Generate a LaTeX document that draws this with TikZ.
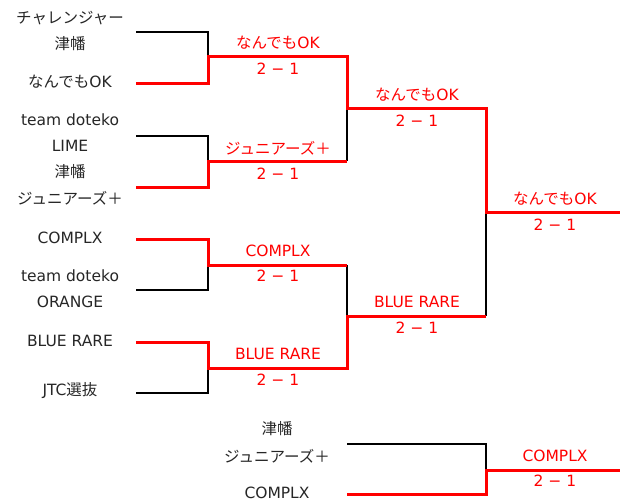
\documentclass[tikz,border=0pt]{standalone}
\usepackage{fontspec}
\setmainfont{DejaVu Sans}
\newfontfamily\jpf{Noto Sans CJK JP}
\begin{document}
\begin{tikzpicture}[x=1pt,y=-1pt,
  lbl/.style={font=\fontsize{15.5}{17}\selectfont, inner sep=0pt, anchor=center, text=black!85},
  win/.style={lbl, text=red},
  bk/.style={line width=1.8pt, black},
  rd/.style={line width=3pt, red, line join=miter}]
\useasboundingbox (0,0) rectangle (620,501);
% team line starts
\coordinate (t1) at (136,32);  \coordinate (t2) at (136,83);
\coordinate (t3) at (136,136); \coordinate (t4) at (136,187);
\coordinate (t5) at (136,239); \coordinate (t6) at (136,290);
\coordinate (t7) at (136,342); \coordinate (t8) at (136,393);
% round 1 junctions
\coordinate (j1t) at (208,32);  \coordinate (j1b) at (208,83);  \coordinate (j1m) at (208,56);
\coordinate (j2t) at (208,136); \coordinate (j2b) at (208,187); \coordinate (j2m) at (208,161);
\coordinate (j3t) at (208,239); \coordinate (j3b) at (208,290); \coordinate (j3m) at (208,265);
\coordinate (j4t) at (208,342); \coordinate (j4b) at (208,393); \coordinate (j4m) at (208,368);
% round 2
\coordinate (k1t) at (347,56);  \coordinate (k1b) at (347,161); \coordinate (k1m) at (347,108);
\coordinate (k2t) at (347,265); \coordinate (k2b) at (347,368); \coordinate (k2m) at (347,316);
% final
\coordinate (ft) at (486,108); \coordinate (fb) at (486,316); \coordinate (fm) at (486,212);
\coordinate (champ) at (620,212);
% third place
\coordinate (s1) at (347,444); \coordinate (s2) at (347,494);
\coordinate (st) at (486,444); \coordinate (sb) at (486,494); \coordinate (sm) at (486,470);
\coordinate (third) at (620,470);

% black (losing) lines
\draw[bk] (t1) -- (j1t) -- (j1m);
\draw[bk] (t3) -- (j2t) -- (j2m);
\draw[bk] (t6) -- (j3b) -- (j3m);
\draw[bk] (t8) -- (j4b) -- (j4m);
\draw[bk] (k1b) -- (k1m);
\draw[bk] (k2t) -- (k2m);
\draw[bk] (fb) -- (fm);
\draw[bk] (s1) -- (st) -- (sm);
% red (winning) lines
\draw[rd] (t2) -- (j1b) -- (j1m) -- (k1t) -- (k1m) -- (ft) -- (fm) -- (champ);
\draw[rd] (t4) -- (j2b) -- (j2m) -- (k1b);
\draw[rd] (t5) -- (j3t) -- (j3m) -- (k2t);
\draw[rd] (t7) -- (j4t) -- (j4m) -- (k2b) -- (k2m) -- (fb);
\draw[rd] (s2) -- (sb) -- (sm) -- (third);

% team names
\node[lbl] (n1) at (70,18) {\jpf チャレンジャー};
\node[lbl] (n2) at (70,44) {\jpf 津幡};
\node[lbl] (n3) at (70,82) {{\jpf なんでも}OK};
\node[lbl] (n4) at (70,120) {team doteko};
\node[lbl] (n5) at (70,146) {LIME};
\node[lbl] (n6) at (70,172) {\jpf 津幡};
\node[lbl] (n7) at (70,198) {\jpf ジュニアーズ＋};
\node[lbl] (n8) at (70,238) {COMPLX};
\node[lbl] (n9) at (70,276) {team doteko};
\node[lbl] (n10) at (70,302) {ORANGE};
\node[lbl] (n11) at (70,341) {BLUE RARE};
\node[lbl] (n12) at (70,391) {JTC{\jpf 選抜}};
\node[lbl] (n13) at (277,429) {\jpf 津幡};
\node[lbl] (n14) at (277,456) {\jpf ジュニアーズ＋};
\node[lbl] (n15) at (277,493) {COMPLX};

% winners and scores
\node[win] (w1) at (278,43) {{\jpf なんでも}OK};   \node[win] (w1s) at (278,69) {2 − 1};
\node[win] (w2) at (278,148) {\jpf ジュニアーズ＋}; \node[win] (w2s) at (278,174) {2 − 1};
\node[win] (w3) at (278,251) {COMPLX};      \node[win] (w3s) at (278,276) {2 − 1};
\node[win] (w4) at (278,354) {BLUE RARE};   \node[win] (w4s) at (278,380) {2 − 1};
\node[win] (w5) at (417,95) {{\jpf なんでも}OK};   \node[win] (w5s) at (417,121) {2 − 1};
\node[win] (w6) at (417,302) {BLUE RARE};   \node[win] (w6s) at (417,328) {2 − 1};
\node[win] (w7) at (555,199) {{\jpf なんでも}OK};  \node[win] (w7s) at (555,225) {2 − 1};
\node[win] (w8) at (555,456) {COMPLX};      \node[win] (w8s) at (555,481) {2 − 1};
\end{tikzpicture}
\end{document}
